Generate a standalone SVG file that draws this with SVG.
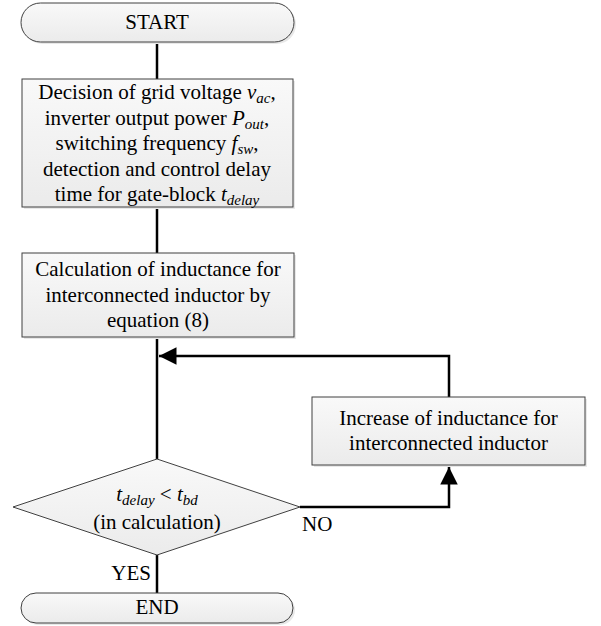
<svg xmlns="http://www.w3.org/2000/svg" width="601" height="626" viewBox="0 0 601 626">
<style>
.box{fill:url(#g);stroke:#404040;stroke-width:1}
.sh{fill:#e8e8e8;stroke:none}
.t{font-family:"Liberation Serif","Times New Roman",serif;font-size:21px;fill:#000;text-anchor:middle}
.s{font-size:15px;font-style:italic}
.i{font-style:italic}
.c{fill:none;stroke:#000;stroke-width:2.5}
</style>
<defs>
<linearGradient id="g" x1="0" y1="0" x2="0" y2="1">
<stop offset="0" stop-color="#f9f9f9"/>
<stop offset="1" stop-color="#ebebeb"/>
</linearGradient>
<marker id="arr" markerWidth="7" markerHeight="7" refX="7" refY="3.5" orient="auto" markerUnits="strokeWidth">
<path d="M0,0 L7,3.5 L0,7 Z" fill="#000"/>
</marker>
</defs>
<g id="connectors">
<line class="c" x1="157" y1="42" x2="157" y2="79"/>
<line class="c" x1="157" y1="207" x2="157" y2="253"/>
<line class="c" x1="157" y1="337" x2="157" y2="459"/>
<line class="c" x1="157" y1="555" x2="157" y2="593"/>
<polyline class="c" points="300,507 449,507 449,467" marker-end="url(#arr)"/>
<polyline class="c" points="449,397 449,356 159,356" marker-end="url(#arr)"/>
</g>
<g id="start">
<rect class="sh" x="23" y="5" width="273" height="39" rx="19.5"/>
<rect class="box" x="21" y="3" width="273" height="39" rx="19.5"/>
<text class="t" x="157" y="29">START</text>
</g>
<g id="decision-params">
<rect class="sh" x="24" y="81" width="271" height="128"/>
<rect class="box" x="22" y="79" width="271" height="128"/>
<text class="t" x="157" y="99">Decision of grid voltage <tspan class="i">v</tspan><tspan class="s" dy="4">ac</tspan><tspan dy="-4">,</tspan></text>
<text class="t" x="157" y="124.5">inverter output power <tspan class="i">P</tspan><tspan class="s" dy="4">out</tspan><tspan dy="-4">,</tspan></text>
<text class="t" x="157" y="150">switching frequency <tspan class="i">f</tspan><tspan class="s" dy="4">sw</tspan><tspan dy="-4">,</tspan></text>
<text class="t" x="157" y="175.5">detection and control delay</text>
<text class="t" x="157" y="201">time for gate-block <tspan class="i">t</tspan><tspan class="s" dy="4">delay</tspan></text>
</g>
<g id="calculation">
<rect class="sh" x="24" y="255" width="272" height="84"/>
<rect class="box" x="22" y="253" width="272" height="84"/>
<text class="t" x="158" y="276">Calculation of inductance for</text>
<text class="t" x="158" y="301.5">interconnected inductor by</text>
<text class="t" x="158" y="327">equation (8)</text>
</g>
<g id="increase">
<rect class="sh" x="314" y="399" width="273" height="68"/>
<rect class="box" x="312" y="397" width="273" height="68"/>
<text class="t" x="448.5" y="425">Increase of inductance for</text>
<text class="t" x="448.5" y="450">interconnected inductor</text>
</g>
<g id="check">
<polygon class="box" points="13,507 157,459 300,507 157,555"/>
<text class="t" x="157" y="501"><tspan class="i">t</tspan><tspan class="s" dy="4">delay</tspan><tspan dy="-4"> &lt; </tspan><tspan class="i">t</tspan><tspan class="s" dy="4">bd</tspan></text>
<text class="t" x="157" y="529">(in calculation)</text>
<text class="t" x="302" y="531" style="text-anchor:start">NO</text>
<text class="t" x="151" y="580" style="text-anchor:end">YES</text>
</g>
<g id="end">
<rect class="sh" x="23" y="595" width="272" height="30" rx="15"/>
<rect class="box" x="21" y="593" width="272" height="30" rx="15"/>
<text class="t" x="157" y="614">END</text>
</g>
</svg>
